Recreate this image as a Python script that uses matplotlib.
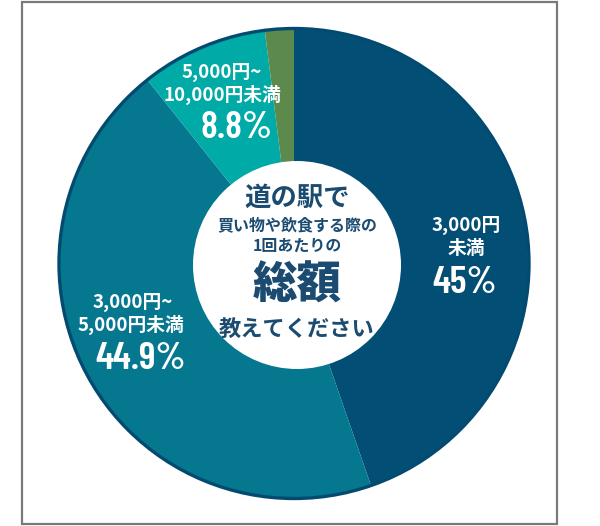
import matplotlib
matplotlib.use("Agg")
import matplotlib.pyplot as plt
from matplotlib.patches import Circle, Rectangle

# ---- data ----
categories = ["3,000円\n未満", "3,000円~\n5,000円未満", "5,000円~\n10,000円未満", "その他"]
values = [45, 44.9, 8.8, 2.0]
pct_labels = ["45%", "44.9%", "8.8%", ""]
colors = ["#024e75", "#05788f", "#00aaa6", "#5c8a4c"]
center_lines = ["道の駅で", "買い物や飲食する際の", "1回あたりの", "総額", "教えてください"]

W, H = 600, 526
fig = plt.figure(figsize=(W / 100, H / 100), dpi=100)
ax = fig.add_axes([0, 0, 1, 1])

def Y(py):
    return H - py

cx, cy = 294, Y(263.5)
R = 234

ax.pie(values, colors=colors, startangle=90, counterclock=False,
       center=(cx, cy), radius=R, wedgeprops=dict(linewidth=0))
ax.add_patch(Circle((cx, cy), R + 1, facecolor="none", edgecolor="#024a70", lw=2.4, zorder=3))
ax.add_patch(Circle((297, Y(265)), 104, facecolor="white", edgecolor="none", zorder=4))

# frame
ax.add_patch(Rectangle((22, Y(524)), 535, 522, facecolor="none", edgecolor="#7a7a7a", lw=1.6, zorder=5))

ax.set_xlim(0, W)
ax.set_ylim(0, H)
ax.set_aspect("equal")
ax.axis("off")

jp = ["Noto Sans CJK JP", "DejaVu Sans"]
cond = ["Barlow Condensed", "DejaVu Sans"]

# slice labels
lab_pos = [
    [(466, 225), (466, 248)],
    [(133, 302), (131, 325)],
    [(222, 72), (222, 95)],
]
pct_pos = [(465, 283), (141, 359), (237, 128)]
for i in range(3):
    lines = categories[i].split("\n")
    for line, (x, y) in zip(lines, lab_pos[i]):
        ax.text(x, Y(y), line, color="white", fontsize=13.5, family=jp, weight="bold",
                ha="center", va="center", zorder=6)
    x, y = pct_pos[i]
    ax.text(x, Y(y), pct_labels[i], color="white", fontsize=28, family=cond, weight=600,
            ha="center", va="center", zorder=6)

# center text
navy = "#1b4b70"
cpos = [(297, 198, 19, "bold"), (297, 225, 11.5, "bold"), (297, 246, 11.5, "bold"),
        (297, 285, 32, "heavy"), (297, 329, 16, "bold")]
for txt, (x, y, s, w) in zip(center_lines, cpos):
    ax.text(x, Y(y), txt, color=navy, fontsize=s, family=jp, weight=w,
            ha="center", va="center", zorder=6)

fig.savefig("out.png", dpi=100, facecolor="white")
